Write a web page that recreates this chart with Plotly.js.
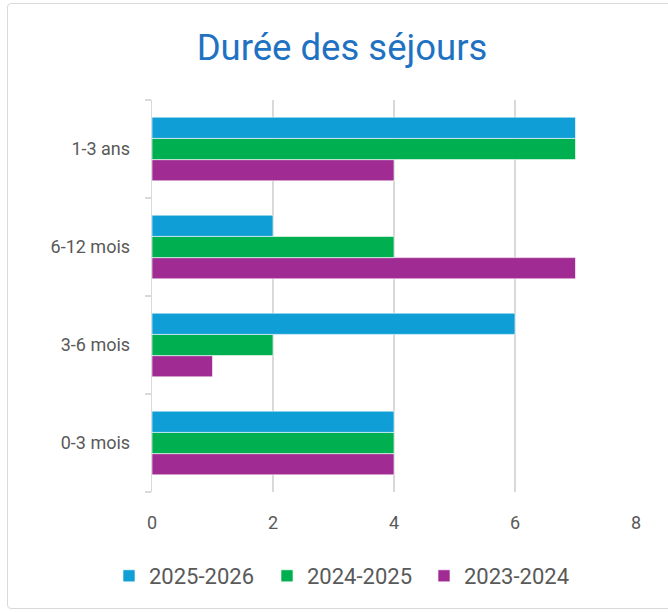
<!DOCTYPE html>
<html><head><meta charset="utf-8">
<script src="https://cdn.plot.ly/plotly-3.0.1.min.js"></script>
<style>
html,body{margin:0;padding:0;background:#fff;}
#frame{position:absolute;left:7px;top:3px;width:668px;height:606px;border:1.5px solid #d9d9d9;border-radius:4px;box-sizing:border-box;}
#chart{position:absolute;left:0;top:0;width:668px;height:613px;}
</style></head>
<body>
<div id="frame"></div>
<div id="chart"></div>
<script>
const categories = ["0-3 mois", "3-6 mois", "6-12 mois", "1-3 ans"];
const seriesNames = ["2023-2024", "2024-2025", "2025-2026"];
const v2023 = [4, 1, 7, 4];
const v2024 = [4, 2, 4, 7];
const v2025 = [4, 6, 2, 7];
const xTicks = [0, 2, 4, 6, 8];
const colors = ["#a02b93", "#00b050", "#0f9ed5"];

const values = [v2023, v2024, v2025];
const legendIds = ["legend3", "legend2", "legend"];
const legendX = [424 / 668, 267 / 668, 109 / 668];
const traces = values.map((v, i) => ({
  type: "bar", orientation: "h",
  y: categories, x: v, name: seriesNames[i],
  legend: legendIds[i],
  marker: {color: colors[i], line: {color: "#ffffff", width: 0.6}},
  hoverinfo: "x+name"
}));

const font = {family: "Roboto, 'Liberation Sans', sans-serif", size: 18, color: "#595959"};
const legendFont = {family: "Roboto, 'Liberation Sans', sans-serif", size: 22, color: "#595959"};
const layout = {
  width: 668, height: 613,
  paper_bgcolor: "rgba(0,0,0,0)", plot_bgcolor: "rgba(0,0,0,0)",
  margin: {l: 152, r: 32, t: 100, b: 121},
  barmode: "group", bargap: 0.35, bargroupgap: 0,
  font: font,
  title: {text: "Durée des séjours", x: 0.512, xref: "container", xanchor: "center",
          y: 1 - 47/613, yref: "container", yanchor: "middle",
          font: {family: "Roboto, sans-serif", size: 36.5, color: "#1f72c2"}},
  xaxis: {range: [0, 8], tickvals: xTicks, showgrid: true, gridcolor: "#d9d9d9", gridwidth: 1.3,
          zeroline: false, showline: false, ticks: "", tickfont: font, ticklabelstandoff: 18, fixedrange: true},
  yaxis: {type: "category", categoryarray: categories, showline: true, linecolor: "#d9d9d9", linewidth: 1.3,
          ticks: "outside", tickson: "boundaries", ticklen: 6, tickcolor: "#d9d9d9", tickwidth: 1.3,
          showgrid: false, tickfont: font, ticklabelstandoff: 17, fixedrange: true},
  showlegend: true
};
legendIds.forEach((id, i) => {
  layout[id] = {orientation: "h", x: legendX[i], xref: "container", xanchor: "left",
                y: 1 - 576/613, yref: "container", yanchor: "middle", font: legendFont,
                bgcolor: "rgba(0,0,0,0)"};
});
Plotly.newPlot("chart", traces, layout, {displayModeBar: false, staticPlot: true});
</script>
</body></html>
